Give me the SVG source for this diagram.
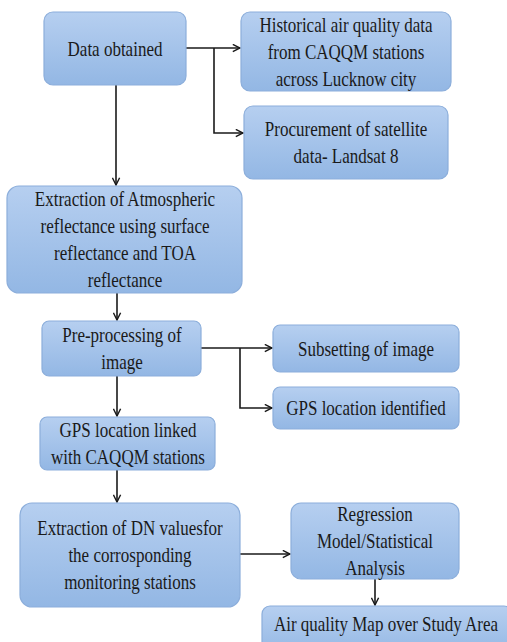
<svg xmlns="http://www.w3.org/2000/svg" width="507" height="642" viewBox="0 0 507 642">
<style>
.box{fill:url(#g);stroke:#8caedb;stroke-width:1.2}
.t{font-family:"Liberation Serif","Times New Roman",serif;font-size:21px;fill:#1a1a1a;text-anchor:middle}
.c{fill:none;stroke:#1a1a1a;stroke-width:1.6}
</style>
<defs>
<linearGradient id="g" x1="0" y1="0" x2="0" y2="1">
<stop offset="0" stop-color="#b6cff0"/>
<stop offset="1" stop-color="#93b7e4"/>
</linearGradient>
<marker id="a" viewBox="0 0 10 10" refX="9" refY="5" markerWidth="9" markerHeight="9" markerUnits="userSpaceOnUse" orient="auto">
<path d="M1,1 L9,5 L1,9" fill="none" stroke="#1a1a1a" stroke-width="1.6"/>
</marker>
</defs>
<rect width="507" height="642" fill="#ffffff"/>
<g id="connectors">
<path class="c" d="M186,48 H240" marker-end="url(#a)"/>
<path class="c" d="M214,48 V133 H243" marker-end="url(#a)"/>
<path class="c" d="M116,85 V185" marker-end="url(#a)"/>
<path class="c" d="M117,293 V320" marker-end="url(#a)"/>
<path class="c" d="M201,348 H272" marker-end="url(#a)"/>
<path class="c" d="M240,348 V408 H272" marker-end="url(#a)"/>
<path class="c" d="M117,376 V416" marker-end="url(#a)"/>
<path class="c" d="M117,470 V502" marker-end="url(#a)"/>
<path class="c" d="M240,554 H290" marker-end="url(#a)"/>
<path class="c" d="M375,579 V605" marker-end="url(#a)"/>
</g>
<g id="n1">
<rect class="box" x="44" y="12" width="142" height="73" rx="9"/>
<text class="t" transform="translate(115,56) scale(0.81,1)">Data obtained</text>
</g>
<g id="n2">
<rect class="box" x="241" y="12" width="210" height="79" rx="9"/>
<text class="t" transform="translate(346,32) scale(0.81,1)">Historical air quality data</text>
<text class="t" transform="translate(346,59) scale(0.81,1)">from CAQQM stations</text>
<text class="t" transform="translate(346,86) scale(0.81,1)">across Lucknow city</text>
</g>
<g id="n3">
<rect class="box" x="244" y="106" width="204" height="73" rx="9"/>
<text class="t" transform="translate(346,136) scale(0.81,1)">Procurement of satellite</text>
<text class="t" transform="translate(346,163) scale(0.81,1)">data- Landsat 8</text>
</g>
<g id="n4">
<rect class="box" x="7" y="186" width="235" height="107" rx="12"/>
<text class="t" transform="translate(125,206) scale(0.81,1)">Extraction of Atmospheric</text>
<text class="t" transform="translate(125,233) scale(0.81,1)">reflectance using surface</text>
<text class="t" transform="translate(125,260) scale(0.81,1)">reflectance and TOA</text>
<text class="t" transform="translate(125,287) scale(0.81,1)">reflectance</text>
</g>
<g id="n5">
<rect class="box" x="42" y="321" width="159" height="55" rx="7"/>
<text class="t" transform="translate(122,342) scale(0.81,1)">Pre-processing of</text>
<text class="t" transform="translate(122,369) scale(0.81,1)">image</text>
</g>
<g id="n6">
<rect class="box" x="273" y="325" width="186" height="47" rx="7"/>
<text class="t" transform="translate(366,356) scale(0.81,1)">Subsetting of image</text>
</g>
<g id="n7">
<rect class="box" x="273" y="387" width="186" height="42" rx="7"/>
<text class="t" transform="translate(366,415) scale(0.81,1)">GPS location identified</text>
</g>
<g id="n8">
<rect class="box" x="40" y="417" width="175" height="53" rx="7"/>
<text class="t" transform="translate(128,437) scale(0.81,1)">GPS location linked</text>
<text class="t" transform="translate(128,464) scale(0.81,1)">with CAQQM stations</text>
</g>
<g id="n9">
<rect class="box" x="20" y="503" width="220" height="104" rx="12"/>
<text class="t" transform="translate(130,535) scale(0.81,1)">Extraction of DN valuesfor</text>
<text class="t" transform="translate(130,562) scale(0.81,1)">the corrosponding</text>
<text class="t" transform="translate(130,589) scale(0.81,1)">monitoring stations</text>
</g>
<g id="n10">
<rect class="box" x="291" y="503" width="168" height="76" rx="10"/>
<text class="t" transform="translate(375,521) scale(0.81,1)">Regression</text>
<text class="t" transform="translate(375,548) scale(0.81,1)">Model/Statistical</text>
<text class="t" transform="translate(375,575) scale(0.81,1)">Analysis</text>
</g>
<g id="n11">
<rect class="box" x="262" y="606" width="250" height="50" rx="8"/>
<text class="t" transform="translate(386,631) scale(0.81,1)">Air quality Map over Study Area</text>
</g>
</svg>
